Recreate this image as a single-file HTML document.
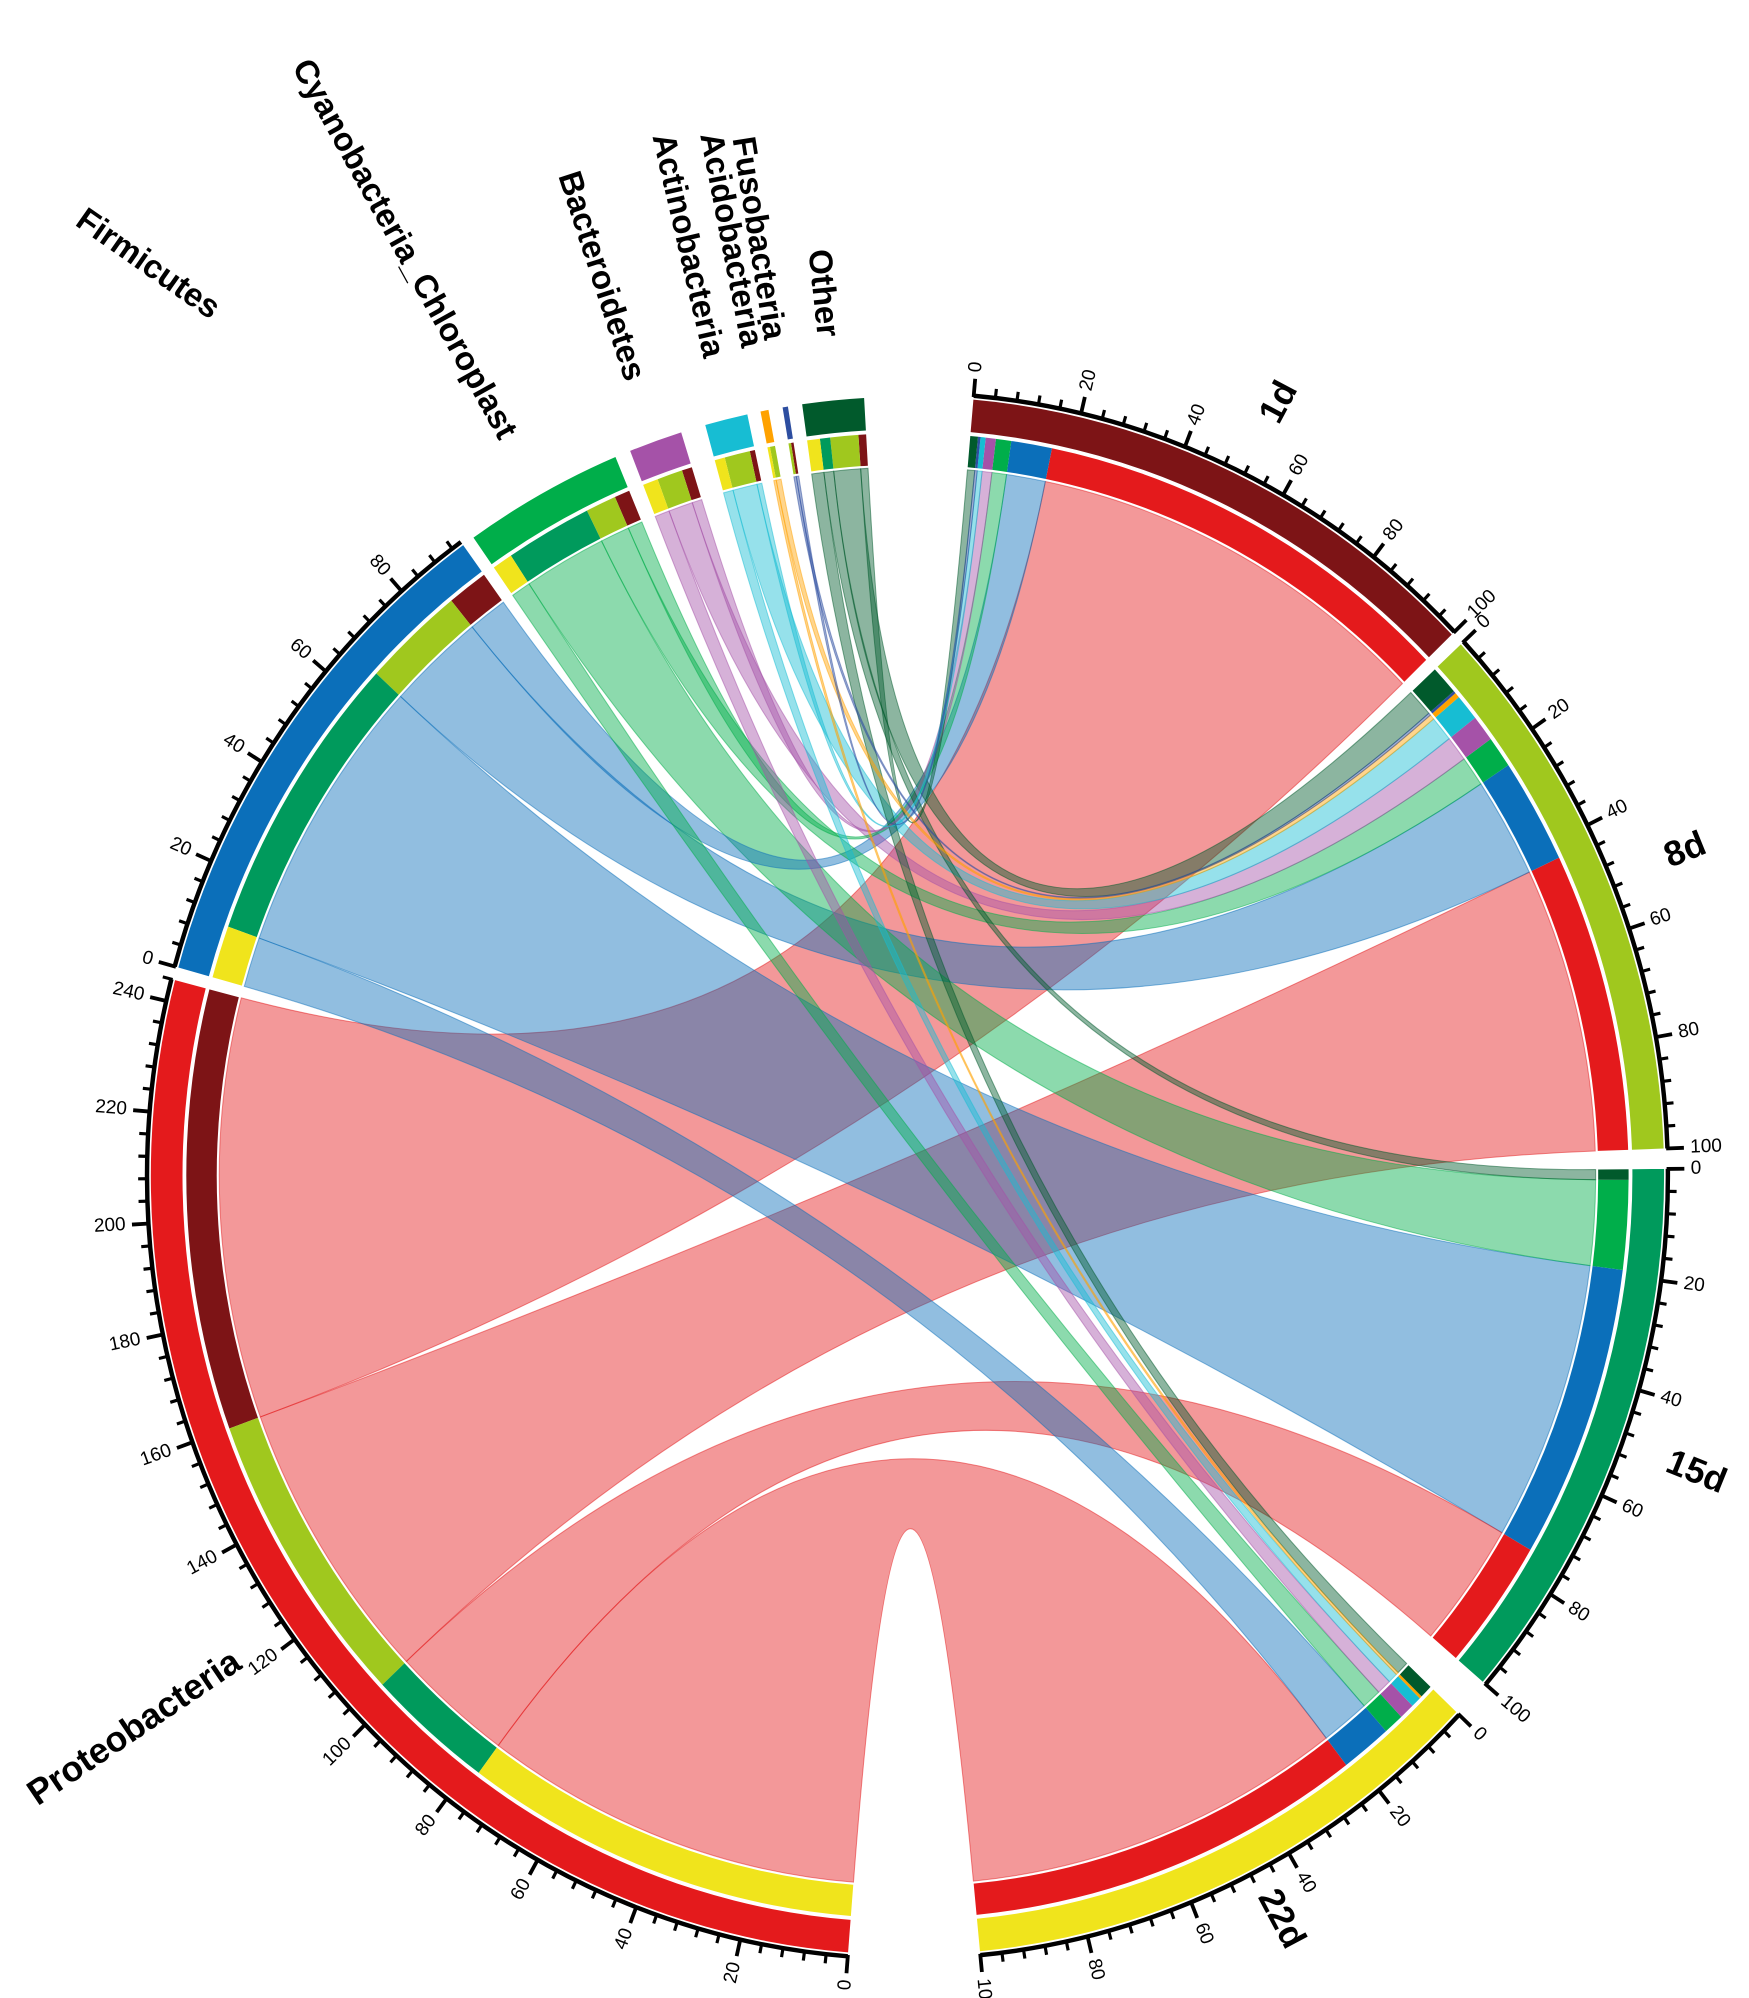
<!DOCTYPE html>
<html><head><meta charset="utf-8">
<style>html,body{margin:0;padding:0;background:#fff;}svg{display:block;}</style>
</head><body>
<svg id="s" width="1749" height="1998" viewBox="0 0 1380 1577" preserveAspectRatio="none" xmlns="http://www.w3.org/2000/svg" font-family="Liberation Sans, Arial, sans-serif">
<g id="chords"></g><g id="rings"></g><g id="ticks"></g><g id="labels"></g>
</svg>
<script>
const NS="http://www.w3.org/2000/svg";
const cx=716,cy=928,k=1.03,u=0.41;
function P(r,t){const a=t*Math.PI/180;return [cx+r*Math.sin(a),cy-r*Math.cos(a)*k];}
function f(p){return p[0].toFixed(2)+","+p[1].toFixed(2);}
function arc(r,t1,t2,sw){const lg=Math.abs(t2-t1)>180?1:0;return "A"+r+","+(r*k)+" 0 "+lg+" "+sw+" "+f(P(r,t2));}
function add(g,tag,attrs,txt){const e=document.createElementNS(NS,tag);for(const a in attrs)e.setAttribute(a,attrs[a]);if(txt!==undefined)e.textContent=txt;document.getElementById(g).appendChild(e);return e;}
function seg(g,r1,r2,t1,t2,c){add(g,"path",{d:"M"+f(P(r2,t1))+arc(r2,t1,t2,1)+"L"+f(P(r1,t2))+arc(r1,t2,t1,0)+"Z",fill:c});}
const samples=["1d","8d","15d","22d"];
const sCol={"1d":"#7d1416","8d":"#a0c81e","15d":"#009a5c","22d":"#f0e41c"};
const sStart={"1d":5,"8d":47,"15d":89.5,"22d":133.5};
const phyla=["P","F","C","B","A","Ac","Fu","O"];
const pCol={P:"#e41a1c",F:"#0b6fba",C:"#00ae4a",B:"#a552a8",A:"#17bdd3",Ac:"#ffa200",Fu:"#2d4ea0",O:"#015a2c"};
const pStart={P:184.5,F:285.5,C:325,B:338.5,A:344.5,Ac:348.8,Fu:350.5,O:352};
const D={"1d":{P:84,F:8,C:3,B:2,A:1,Ac:0,Fu:0.5,O:1.5},
"8d":{P:57,F:20,C:6,B:5,A:5,Ac:1,Fu:0.5,O:5.5},
"15d":{P:25,F:56,C:17,B:0,A:0,Ac:0,Fu:0,O:2},
"22d":{P:78,F:10,C:4,B:3,A:2,Ac:0.5,Fu:0,O:2.5}};
const pTot={};phyla.forEach(p=>{pTot[p]=samples.reduce((s,x)=>s+D[x][p],0);});
const sPos={};samples.forEach(s=>{let a=sStart[s];["O","Fu","Ac","A","B","C","F","P"].forEach(p=>{const w=D[s][p]*u;sPos[s+p]=[a,a+w];a+=w;});});
const pPos={};phyla.forEach(p=>{let a=pStart[p];["22d","15d","8d","1d"].forEach(s=>{const w=D[s][p]*u;pPos[s+p]=[a,a+w];a+=w;});});
const Rc=543;
const list=[];samples.forEach(s=>phyla.forEach(p=>{if(D[s][p]>0)list.push([s,p,D[s][p]]);}));
list.sort((a,b)=>b[2]-a[2]);
list.forEach(([s,p])=>{const [a1,a2]=sPos[s+p],[b1,b2]=pPos[s+p];
const d="M"+f(P(Rc,a1))+arc(Rc,a1,a2,1)+"Q"+cx+","+cy+" "+f(P(Rc,b1))+arc(Rc,b1,b2,1)+"Q"+cx+","+cy+" "+f(P(Rc,a1))+"Z";
add("chords","path",{d:d,fill:pCol[p],"fill-opacity":0.45,stroke:pCol[p],"stroke-opacity":0.5,"stroke-width":0.8});});
samples.forEach(s=>{seg("rings",572,597,sStart[s],sStart[s]+100*u,sCol[s]);
phyla.forEach(p=>{const q=sPos[s+p];if(q[1]>q[0])seg("rings",545,569,q[0],q[1],pCol[p]);});});
phyla.forEach(p=>{seg("rings",572,597,pStart[p],pStart[p]+pTot[p]*u,pCol[p]);
samples.forEach(s=>{const q=pPos[s+p];if(q[1]>q[0])seg("rings",545,569,q[0],q[1],sCol[s]);});});
function axis(start,total){const t2=start+total*u;
add("ticks","path",{d:"M"+f(P(600,start))+arc(600,start,t2,1),fill:"none",stroke:"#000","stroke-width":3.5});
for(let v=0;v<=total+0.01;v+=4){const t=start+v*u;const maj=(v%20===0);
add("ticks","path",{d:"M"+f(P(599,t))+"L"+f(P(maj?613:607,t)),stroke:"#000","stroke-width":maj?3:2.5});
if(maj){const q=P(618,t);let rot,anc;if(t<180){rot=t-90;anc="start";}else{rot=t+90;anc="end";}
add("ticks","text",{x:q[0],y:q[1],"font-size":15,"text-anchor":anc,"dominant-baseline":"middle",transform:"rotate("+rot+" "+q[0]+" "+q[1]+")"},String(v));}}}
samples.forEach(s=>axis(sStart[s],100));
axis(pStart.P,pTot.P);axis(pStart.F,pTot.F);
function lab(t,x,y,rot,size,anc){add("labels","text",{x:x,y:y,"font-size":size,"font-weight":"bold","text-anchor":anc||"middle","dominant-baseline":"middle",transform:"rotate("+rot+" "+x+" "+y+")"},t);}
lab("1d",1010,318,-62,28);lab("8d",1330,672,-22,28);lab("15d",1338,1163,22,28);lab("22d",1010,1515,62,28);
lab("Cyanobacteria_Chloroplast",400,345,61,26,"end");
lab("Bacteroidetes",500,300,72,26,"end");
lab("Actinobacteria",562,282,77,26,"end");
lab("Acidobacteria",592,274,79,26,"end");
lab("Fusobacteria",610,268,81,26,"end");
lab("Other",652,266,84,26,"end");
lab("Firmicutes",170,247,35,26,"end");
lab("Proteobacteria",188,1310,-34,28,"end");
</script>
</body></html>
